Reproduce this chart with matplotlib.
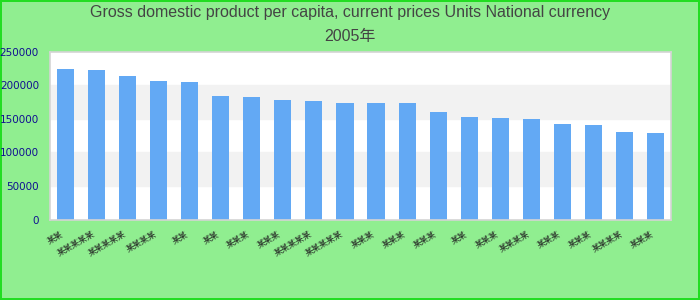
import numpy as np
import matplotlib.pyplot as plt
from matplotlib.transforms import ScaledTranslation

# original category names are not legible in the reference (drawn as tofu there),
# so "某" placeholders with the same character counts are used
labels = ['某某', '某某某某某', '某某某某某', '某某某某', '某某', '某某', '某某某', '某某某',
          '某某某某某', '某某某某某', '某某某', '某某某', '某某某', '某某', '某某某',
          '某某某某', '某某某', '某某某', '某某某某', '某某某']
values = [223500, 222000, 213000, 205500, 204000, 183100, 181600, 177100, 175600, 174100,
          174100, 174100, 160600, 153100, 151600, 150000, 142600, 141100, 130600, 129100]
yticks = [0, 50000, 100000, 150000, 200000, 250000]
title = 'Gross domestic product per capita, current prices Units National currency\n2005年'

fig = plt.figure(figsize=(7, 3), dpi=100, facecolor='#90ee90',
                 edgecolor='#22dd22', linewidth=1.5)
ax = fig.add_axes([50 / 700, 80.5 / 300, 621 / 700, 168 / 300])
ax.set_facecolor('white')

# alternating bands
for i in range(len(yticks) - 1):
    if i % 2 == 1:
        ax.axhspan(yticks[i], yticks[i + 1], color='#f2f2f2', zorder=0)

x = np.arange(len(values))
ax.bar(x, values, width=0.55, color='#63a9f4', zorder=2)

ax.set_xlim(-0.5, len(values) - 0.5)
ax.set_ylim(0, 250000)
ax.set_yticks(yticks)
ax.set_yticklabels([str(v) for v in yticks])
ax.set_xticks(x)
ax.set_xticklabels(labels, rotation=30, ha='right', rotation_mode='anchor',
                   family=['Noto Sans CJK SC', 'DejaVu Sans'])
ax.tick_params(axis='y', length=0, pad=8, labelsize=7.5, labelcolor='#101090')
ax.tick_params(axis='x', length=0, pad=7, labelsize=6, labelcolor='#222222')
shift = ScaledTranslation(-5 / 100, 0, fig.dpi_scale_trans)
for t in ax.get_xticklabels():
    t.set_transform(t.get_transform() + shift)
for s in ax.spines.values():
    s.set_color('#d4d4d4')
    s.set_linewidth(1.2)

fig.text(0.5, 1 - 5 / 300, title, ha='center', va='top', fontsize=11.5,
         family=['Liberation Sans', 'Noto Sans CJK SC'], color='#444444',
         linespacing=1.75)

fig.savefig('out.png', dpi=100, facecolor=fig.get_facecolor(),
            edgecolor=fig.get_edgecolor())
